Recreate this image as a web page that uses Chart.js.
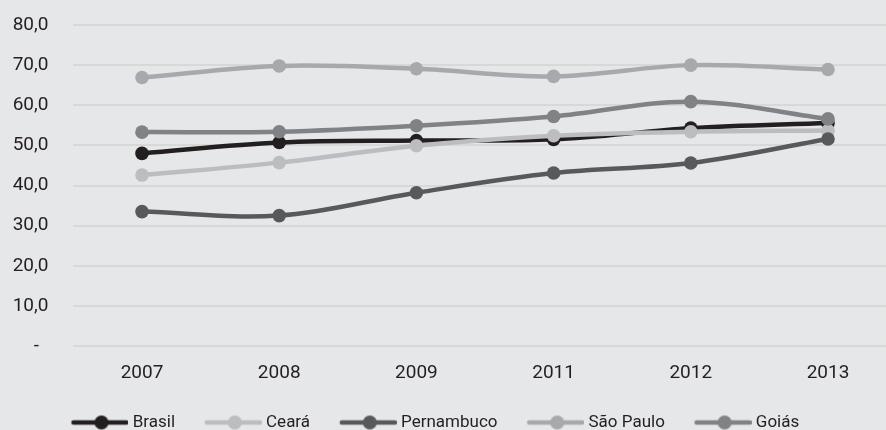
<!DOCTYPE html>
<html><head><meta charset="utf-8">
<script src="https://cdn.jsdelivr.net/npm/chart.js@4/dist/chart.umd.min.js"></script>
<style>html,body{margin:0;padding:0;background:#e6e7e8;}#wrap{width:886px;height:430px;position:relative;}</style>
</head><body><div id="wrap"><canvas id="c" width="886" height="430"></canvas></div>
<script>
const years = ['2007','2008','2009','2011','2012','2013'];
const seriesNames = ['Brasil','Ceará','Pernambuco','São Paulo','Goiás'];
const brasil = [48.0, 50.7, 51.2, 51.5, 54.3, 55.6];
const ceara = [42.6, 45.7, 49.9, 52.4, 53.4, 53.7];
const pernambuco = [33.5, 32.5, 38.2, 43.1, 45.6, 51.6];
const saoPaulo = [66.9, 69.8, 69.1, 67.2, 70.0, 68.9];
const goias = [53.3, 53.4, 54.9, 57.2, 60.9, 56.6];
const yTicks = [0,10,20,30,40,50,60,70,80];
const colors = ['#231f20','#bcbdc0','#58595b','#a7a9ac','#808285'];
const FONT = "Roboto, 'DejaVu Sans Condensed', sans-serif";

function legendSymbol(color){
  const cv = document.createElement('canvas');
  cv.width = 88; cv.height = 16;
  const g = cv.getContext('2d');
  g.strokeStyle = color; g.lineWidth = 4.5; g.lineCap='round';
  g.beginPath(); g.moveTo(33,8); g.lineTo(86,8); g.stroke();
  g.fillStyle = color; g.beginPath(); g.arc(61,8,7,0,Math.PI*2); g.fill();
  return cv;
}
const symbols = colors.map(legendSymbol);

const values = [brasil, ceara, pernambuco, saoPaulo, goias];
const datasets = values.map((v,i)=>({
  label: seriesNames[i], data: v,
  borderColor: colors[i], backgroundColor: colors[i],
  pointBackgroundColor: colors[i], pointBorderColor: colors[i],
  borderWidth: 4.5, pointRadius: 6.8, pointBorderWidth: 0,
  tension: 0.35, fill: false, order: 5 - i
}));

const RIGHT_EDGE = 896.6;
const layoutTweak = {
  id: 'layoutTweak',
  afterLayout(chart){
    const l = chart.legend;
    if (l) { l.left -= 21; l.right -= 21; l.top += 11; l.bottom += 11; }
    const ca = chart.chartArea;
    ca.right = RIGHT_EDGE; ca.width = ca.right - ca.left;
    const xs = chart.scales.x;
    xs.right = RIGHT_EDGE; xs.width = xs.right - xs.left;
    xs.configure();
  }
};

Chart.defaults.font.family = FONT;
new Chart(document.getElementById('c'), {
  type: 'line',
  data: { labels: years, datasets },
  plugins: [layoutTweak],
  options: {
    responsive: false, animation: false,
    events: [],
    layout: { autoPadding: false, padding: { top: 25, right: 0, left: 0, bottom: 0 } },
    plugins: {
      tooltip: { enabled: false },
      legend: {
        position: 'bottom',
        labels: {
          usePointStyle: true, pointStyleWidth: 79.5,
          padding: 3, color: '#231f20',
          font: { size: 17, family: FONT },
          generateLabels(chart){
            const items = Chart.defaults.plugins.legend.labels.generateLabels(chart);
            items.sort((a,b)=>a.datasetIndex-b.datasetIndex);
            items.forEach(it=>{ it.pointStyle = symbols[it.datasetIndex]; });
            return items;
          }
        }
      }
    },
    scales: {
      x: {
        offset: true,
        grid: { display: false, drawTicks: false },
        border: { display: false },
        ticks: { color: '#231f20', font: { size: 19, family: FONT }, padding: 15.6, maxRotation: 0, autoSkip: false },
        afterFit(s){ s.paddingLeft = 0; s.paddingRight = 0; }
      },
      y: {
        min: 0, max: 80,
        afterBuildTicks(s){ s.ticks = yTicks.map(v=>({value:v})); },
        afterFit(s){ s.width = 73.4; s.paddingTop = 0; s.paddingBottom = 0; },
        grid: { color: '#d8d9d5', lineWidth: 2, drawTicks: false },
        border: { display: false },
        ticks: {
          color: '#231f20', font: { size: 19, family: FONT }, padding: 25,
          callback(v){ return v === 0 ? '-  ' : v.toFixed(1).replace('.', ','); }
        }
      }
    }
  }
});
</script>
</body></html>
